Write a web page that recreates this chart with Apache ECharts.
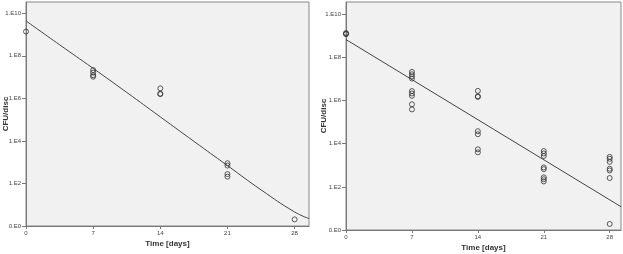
<!DOCTYPE html>
<html><head><meta charset="utf-8">
<script src="https://cdn.jsdelivr.net/npm/echarts@6/dist/echarts.min.js"></script>
<style>html,body{margin:0;padding:0;background:#fff}#c{width:623px;height:254px}</style>
</head><body><div id="c"></div>
<script>
// Tick labels
const dayTicks = [0, 7, 14, 21, 28];
const yTickValues = [0, 2, 4, 6, 8, 10];
const yTickLabels = ['0.E0', '1.E2', '1.E4', '1.E6', '1.E8', '1.E10'];
const xName = 'Time [days]';
const yName = 'CFU/disc';

// Left panel observations (log10 CFU/disc)
const leftDays = [0, 7, 7, 7, 7, 14, 14, 14, 21, 21, 21, 21, 28];
const leftLogCFU = [9.14, 7.33, 7.21, 7.09, 7.02, 6.47, 6.22, 6.20, 2.95, 2.84, 2.44, 2.32, 0.31];
// Left panel fitted curve
const leftCurveX = [0, 3.5, 7, 10.5, 14, 17.5, 21, 24.5, 28, 29.5];
const leftCurveY = [9.64, 8.52, 7.41, 6.28, 5.13, 3.98, 2.84, 1.70, 0.66, 0.35];

// Right panel observations (log10 CFU/disc)
const rightDays = [0, 0, 0,
  7, 7, 7, 7, 7, 7, 7, 7, 7,
  14, 14, 14, 14, 14, 14, 14,
  21, 21, 21, 21, 21, 21, 21, 21,
  28, 28, 28, 28, 28, 28, 28];
const rightLogCFU = [9.13, 9.10, 9.08,
  7.33, 7.22, 7.12, 7.02, 6.44, 6.33, 6.22, 5.83, 5.59,
  6.45, 6.20, 6.17, 4.58, 4.44, 3.74, 3.60,
  3.66, 3.55, 3.43, 2.90, 2.82, 2.44, 2.35, 2.25,
  3.39, 3.30, 3.16, 2.84, 2.76, 2.41, 0.28];
// Right panel fitted line
const rightLineX = [0, 29.2];
const rightLineY = [8.83, 1.08];

const zip = (a, b) => a.map((v, i) => [v, b[i]]);
const font = 'Liberation Sans, Arial, sans-serif';

function xAxis(gi, max, gap) {
  return {
    gridIndex: gi, type: 'value', min: 0, max: max, interval: 7,
    name: xName, nameLocation: 'middle', nameGap: gap, nameMoveOverlap: false,
    nameTextStyle: { fontFamily: font, fontSize: 8, fontWeight: 'bold', color: '#333' },
    axisLine: { show: true, onZero: false, lineStyle: { color: '#777', width: 1 } },
    axisTick: { show: true, length: 3, customValues: dayTicks, lineStyle: { color: '#777' } },
    axisLabel: { customValues: dayTicks, fontFamily: font, fontSize: 6, color: '#444', margin: 4 },
    splitLine: { show: false }
  };
}
function yAxis(gi, max, gap) {
  return {
    gridIndex: gi, type: 'value', min: 0, max: max, interval: 2,
    name: yName, nameLocation: 'middle', nameGap: gap, nameMoveOverlap: false,
    nameTextStyle: { fontFamily: font, fontSize: 8, fontWeight: 'bold', color: '#333' },
    axisLine: { show: true, onZero: false, lineStyle: { color: '#777', width: 1 } },
    axisTick: { show: true, length: 4, customValues: yTickValues, lineStyle: { color: '#777' } },
    axisLabel: {
      customValues: yTickValues, fontFamily: font, fontSize: 6, color: '#444', margin: 5,
      formatter: v => { const i = yTickValues.indexOf(v); return i >= 0 ? yTickLabels[i] : ''; }
    },
    splitLine: { show: false }
  };
}
const pointStyle = { color: 'rgba(0,0,0,0)', borderColor: '#333', borderWidth: 1 };

const chart = echarts.init(document.getElementById('c'), null, { renderer: 'canvas' });
chart.setOption({
  animation: false,
  backgroundColor: '#fff',
  grid: [
    { left: 26, top: 2, width: 283, height: 224, containLabel: false, outerBoundsMode: 'none',
      show: true, backgroundColor: '#f1f1f1', borderColor: '#888', borderWidth: 1 },
    { left: 346, top: 2, width: 275, height: 228, containLabel: false, outerBoundsMode: 'none',
      show: true, backgroundColor: '#f1f1f1', borderColor: '#888', borderWidth: 1 }
  ],
  xAxis: [xAxis(0, 29.5, 14), xAxis(1, 29.2, 14)],
  yAxis: [yAxis(0, 10.53, 16), yAxis(1, 10.57, 18)],
  series: [
    { type: 'line', xAxisIndex: 0, yAxisIndex: 0, data: zip(leftCurveX, leftCurveY), smooth: 0.5,
      showSymbol: false, lineStyle: { color: '#444', width: 1 }, z: 2 },
    { type: 'scatter', xAxisIndex: 0, yAxisIndex: 0, data: zip(leftDays, leftLogCFU),
      symbol: 'circle', symbolSize: 5, itemStyle: pointStyle, z: 3 },
    { type: 'line', xAxisIndex: 1, yAxisIndex: 1, data: zip(rightLineX, rightLineY),
      showSymbol: false, lineStyle: { color: '#444', width: 1 }, z: 2 },
    { type: 'scatter', xAxisIndex: 1, yAxisIndex: 1, data: zip(rightDays, rightLogCFU),
      symbol: 'circle', symbolSize: 5, itemStyle: pointStyle, z: 3 }
  ]
});
</script></body></html>
